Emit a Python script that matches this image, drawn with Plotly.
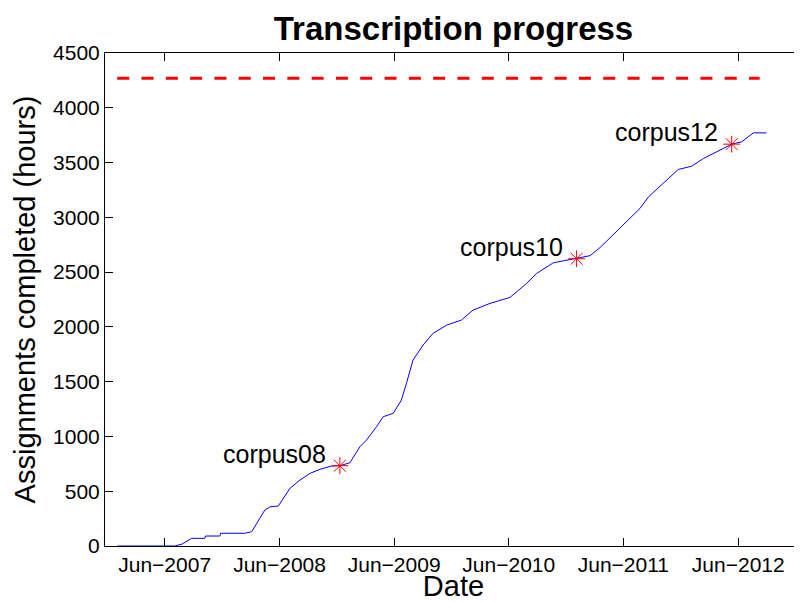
import plotly.graph_objects as go

# cumulative transcription progress
dates = [
    "2007-01-01", "2007-07-03", "2007-07-27", "2007-08-26", "2007-10-07", "2007-10-09",
    "2007-11-24", "2007-11-26", "2008-02-11", "2008-03-04", "2008-04-15", "2008-05-02",
    "2008-05-28", "2008-07-04", "2008-08-05", "2008-09-06", "2008-10-08", "2008-11-14",
    "2008-12-10", "2009-01-11", "2009-02-12", "2009-03-05", "2009-04-06", "2009-04-27",
    "2009-05-29", "2009-06-13", "2009-06-24", "2009-07-10", "2009-07-31", "2009-08-15",
    "2009-09-01", "2009-10-03", "2009-11-15", "2010-01-01", "2010-02-07", "2010-04-02",
    "2010-06-05", "2010-07-28", "2010-08-29", "2010-10-21", "2010-12-03", "2011-01-03",
    "2011-01-25", "2011-02-15", "2011-03-19", "2011-06-01", "2011-07-24", "2011-08-20",
    "2011-10-17", "2011-11-23", "2012-01-05", "2012-02-11", "2012-03-24", "2012-05-11",
    "2012-06-12", "2012-07-19", "2012-08-30",
]
hours = [
    0, 0, 18, 70, 70, 91,
    91, 116, 116, 130, 328, 358,
    365, 526, 602, 663, 700, 730,
    733, 760, 906, 967, 1089, 1180,
    1211, 1280, 1332, 1484, 1697, 1761,
    1834, 1941, 2016, 2062, 2153, 2214,
    2269, 2397, 2488, 2585, 2609, 2622,
    2640, 2650, 2725, 2929, 3081, 3187,
    3339, 3437, 3467, 3537, 3598, 3668,
    3689, 3771, 3771,
]

# total target
target_dates = ["2007-01-01", "2012-08-08"]
target_hours = [4270, 4270]

# corpus release markers
corpus_dates = ["2008-12-10", "2011-01-03", "2012-05-11"]
corpus_hours = [733, 2622, 3668]
corpus_labels = ["corpus08", "corpus10", "corpus12"]

tick_dates = ["2007-06-01", "2008-06-01", "2009-06-01", "2010-06-01", "2011-06-01", "2012-06-01"]
tick_labels = ["Jun\u22122007", "Jun\u22122008", "Jun\u22122009", "Jun\u22122010", "Jun\u22122011", "Jun\u22122012"]

FONT = "Liberation Sans, Arial, Helvetica, sans-serif"

fig = go.Figure()

fig.add_trace(go.Scatter(
    x=target_dates, y=target_hours, mode="lines",
    line=dict(color="#ff0000", width=3, dash="12px,12.3px"),
    showlegend=False,
))
fig.add_trace(go.Scatter(
    x=dates, y=hours, mode="lines",
    line=dict(color="#0000ff", width=1),
    showlegend=False,
))
fig.add_trace(go.Scatter(
    x=corpus_dates, y=corpus_hours, mode="markers",
    marker=dict(symbol="asterisk-open", size=14, color="#ff0000",
                line=dict(color="#ff0000", width=1)),
    showlegend=False,
))

for d, h, lab in zip(corpus_dates, corpus_hours, corpus_labels):
    fig.add_annotation(
        x=d, y=h, text=lab, showarrow=False,
        xanchor="right", yanchor="middle", xshift=-12, yshift=12,
        font=dict(family=FONT, size=25, color="black"),
    )

# page body adds 8px around the plot, so the figure is 8px smaller
fig.update_layout(
    width=794, height=594,
    margin=dict(l=97, r=0, t=45, b=56),
    paper_bgcolor="white", plot_bgcolor="white",
    font=dict(family=FONT, color="black"),
    title=dict(
        text="<b>Transcription progress</b>",
        font=dict(family=FONT, size=33, color="black"),
        x=0.5, xref="paper", xanchor="center",
        y=1 - 20 / 594, yref="container", yanchor="middle",
    ),
)

fig.update_xaxes(
    type="date",
    range=["2006-11-23", "2012-12-21"],
    tickmode="array", tickvals=tick_dates, ticktext=tick_labels,
    ticks="inside", ticklen=8, tickcolor="black", tickwidth=1,
    showline=True, linecolor="black", linewidth=1, mirror="ticks",
    showgrid=False, zeroline=False,
    tickfont=dict(family=FONT, size=21, color="black"),
    title=dict(text="Date", font=dict(family=FONT, size=29, color="black"), standoff=2),
)
fig.update_yaxes(
    range=[0, 4500],
    tickmode="array", tickvals=list(range(0, 4501, 500)),
    ticks="inside", ticklen=8, tickcolor="black", tickwidth=1,
    showline=True, linecolor="black", linewidth=1, mirror="ticks",
    showgrid=False, zeroline=False,
    tickfont=dict(family=FONT, size=21, color="black"),
    title=dict(text="Assignments completed (hours)",
               font=dict(family=FONT, size=29, color="black"), standoff=8),
)

fig.write_html("out.html")
